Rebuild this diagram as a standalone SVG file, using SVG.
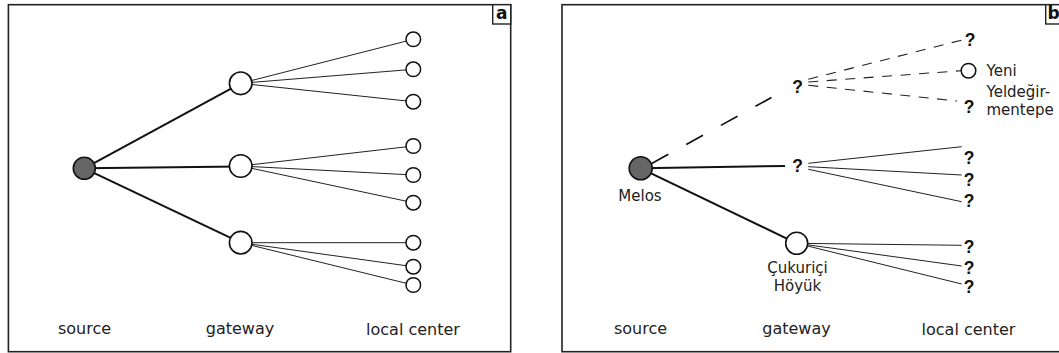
<svg xmlns="http://www.w3.org/2000/svg" width="1059" height="353" viewBox="0 0 1059 353">
<style>
.frame{fill:#fff;stroke:#222;stroke-width:1.6}
.tag{fill:#fff;stroke:#222;stroke-width:1.4}
.tagt{font-family:"DejaVu Sans",sans-serif;font-weight:bold;font-size:17px;fill:#111}
.thick{stroke:#111;stroke-width:2;fill:none}
.thin{stroke:#222;stroke-width:1;fill:none}
.dashL{stroke:#111;stroke-width:1.7;fill:none;stroke-dasharray:19 20.5}
.dashS{stroke:#222;stroke-width:1.1;fill:none;stroke-dasharray:10 8.5}
.src{fill:#666;stroke:#111;stroke-width:1.6}
.gw{fill:#fff;stroke:#111;stroke-width:1.6}
.lc{fill:#fff;stroke:#111;stroke-width:1.5}
.lbl{font-family:"DejaVu Sans",sans-serif;font-size:16px;fill:#222;text-anchor:middle}
.nm{font-family:"DejaVu Sans",sans-serif;font-size:15px;fill:#222}
.q{font-family:"Liberation Sans",Arial,sans-serif;font-weight:bold;font-size:17.5px;fill:#111;text-anchor:middle}
</style>
<rect width="1059" height="353" fill="#fff"/>
<!-- Panel a -->
<g id="panel-a">
<rect class="frame" x="8.4" y="4.7" width="502.3" height="347"/>
<rect class="tag" x="492.7" y="4.7" width="18" height="19.3"/>
<text class="tagt" x="501.7" y="19.3" text-anchor="middle">a</text>
</g>
<g id="connectors-a">
<line class="thick" x1="84.3" y1="168.3" x2="240.7" y2="83.3"/>
<line class="thick" x1="84.3" y1="168.3" x2="240.7" y2="166.5"/>
<line class="thick" x1="84.3" y1="168.3" x2="240.7" y2="242.7"/>
<line class="thin" x1="240.7" y1="83.3" x2="413.3" y2="39.3"/>
<line class="thin" x1="240.7" y1="83.3" x2="413.3" y2="69.3"/>
<line class="thin" x1="240.7" y1="83.3" x2="413.3" y2="101.7"/>
<line class="thin" x1="240.7" y1="166" x2="413.3" y2="146"/>
<line class="thin" x1="240.7" y1="166" x2="413.3" y2="175"/>
<line class="thin" x1="240.7" y1="166" x2="413.3" y2="202.7"/>
<line class="thin" x1="240.7" y1="242.7" x2="413.3" y2="242.7"/>
<line class="thin" x1="240.7" y1="242.7" x2="413.3" y2="266.7"/>
<line class="thin" x1="240.7" y1="242.7" x2="413.3" y2="285"/>
</g>
<g id="a-source"><circle class="src" cx="84.3" cy="168.3" r="11"/></g>
<g id="a-gw1"><circle class="gw" cx="240.7" cy="83.3" r="11.3"/></g>
<g id="a-gw2"><circle class="gw" cx="240.7" cy="166" r="11.3"/></g>
<g id="a-gw3"><circle class="gw" cx="240.7" cy="242.7" r="11.3"/></g>
<g id="a-lc">
<circle class="lc" cx="413.3" cy="39.3" r="7.3"/>
<circle class="lc" cx="413.3" cy="69.3" r="7.3"/>
<circle class="lc" cx="413.3" cy="101.7" r="7.3"/>
<circle class="lc" cx="413.3" cy="146" r="7.3"/>
<circle class="lc" cx="413.3" cy="175" r="7.3"/>
<circle class="lc" cx="413.3" cy="202.7" r="7.3"/>
<circle class="lc" cx="413.3" cy="242.7" r="7.3"/>
<circle class="lc" cx="413.3" cy="266.7" r="7.3"/>
<circle class="lc" cx="413.3" cy="285" r="7.3"/>
</g>
<g id="a-labels">
<text class="lbl" x="84.5" y="334">source</text>
<text class="lbl" x="240" y="334">gateway</text>
<text class="lbl" x="413" y="335">local center</text>
</g>
<!-- Panel b -->
<g id="panel-b">
<rect class="frame" x="562" y="4.7" width="510" height="347"/>
<rect class="tag" x="1045.7" y="4.7" width="20" height="19.3"/>
<text class="tagt" x="1047.5" y="19.3" font-size="16">b</text>
</g>
<g id="connectors-b">
<line class="dashL" x1="651.7" y1="163.5" x2="771.5" y2="97.5"/>
<line class="thick" x1="640.7" y1="168.3" x2="785" y2="166"/>
<line class="thick" x1="640.7" y1="168.3" x2="796.7" y2="243.3"/>
<line class="dashS" x1="808.3" y1="79.3" x2="962" y2="40"/>
<line class="dashS" x1="808.3" y1="82" x2="961" y2="70.7"/>
<line class="dashS" x1="808.3" y1="85.3" x2="957" y2="101"/>
<line class="thin" x1="808.3" y1="163.3" x2="961.7" y2="146.7"/>
<line class="thin" x1="808.3" y1="166.7" x2="961.7" y2="175"/>
<line class="thin" x1="808.3" y1="169.3" x2="961.7" y2="201.7"/>
<line class="thin" x1="796.7" y1="243.3" x2="961.7" y2="245.3"/>
<line class="thin" x1="796.7" y1="243.3" x2="961.7" y2="266"/>
<line class="thin" x1="796.7" y1="243.3" x2="961.7" y2="284"/>
</g>
<g id="b-melos">
<circle class="src" cx="640.7" cy="168.3" r="11.5"/>
<text class="nm" x="640" y="201" text-anchor="middle">Melos</text>
</g>
<g id="b-gw-top"><text class="q" x="797.5" y="93">?</text></g>
<g id="b-gw-mid"><text class="q" x="797.5" y="171.5">?</text></g>
<g id="b-cukurici">
<circle class="gw" cx="796.7" cy="243.3" r="11"/>
<text class="nm" x="797.5" y="273" text-anchor="middle">Çukuriçi</text>
<text class="nm" x="797.5" y="291" text-anchor="middle">Höyük</text>
</g>
<g id="b-lc">
<text class="q" x="970" y="45.5">?</text>
<circle class="lc" cx="968.5" cy="70.7" r="7.3"/>
<text class="q" x="969" y="112.5">?</text>
<text class="q" x="969" y="163.5">?</text>
<text class="q" x="969" y="186">?</text>
<text class="q" x="969" y="206.5">?</text>
<text class="q" x="969" y="252.5">?</text>
<text class="q" x="969" y="273.5">?</text>
<text class="q" x="969" y="293">?</text>
</g>
<g id="b-yeni">
<text class="nm" x="986.5" y="76">Yeni</text>
<text class="nm" x="986.5" y="96.7">Yeldeğir-</text>
<text class="nm" x="986.5" y="115">mentepe</text>
</g>
<g id="b-labels">
<text class="lbl" x="640.5" y="334">source</text>
<text class="lbl" x="796.5" y="334">gateway</text>
<text class="lbl" x="968.5" y="335">local center</text>
</g>
</svg>
